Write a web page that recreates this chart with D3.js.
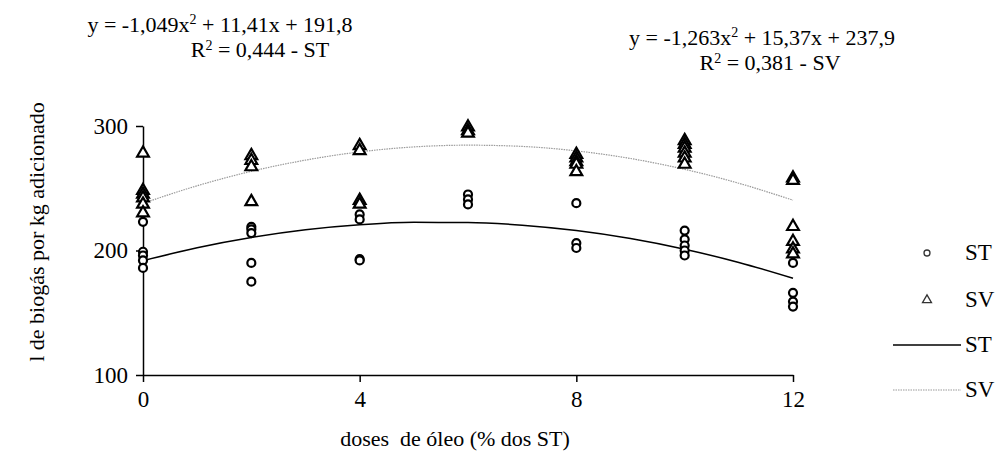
<!DOCTYPE html>
<html><head><meta charset="utf-8">
<script src="https://cdn.jsdelivr.net/npm/d3@7"></script>
<style>
@font-face{font-family:"ChartSerif";src:local("Liberation Serif"),local("LiberationSerif"),local("LiberationSerif-Regular"),local("Tinos"),local("Times New Roman");}
</style>
</head><body style="margin:0;background:#fff">
<svg id="c" width="1003" height="471"></svg>
<script>
// Data
const stX = [0,0,0,0,0, 2,2,2,2,2, 4,4,4,4, 6,6,6, 8,8,8, 10,10,10,10,10, 12,12,12,12];
const stY = [223,199,196,192,186, 219,217,214,190,175, 229,225,193,192, 245,241,237, 238,206,202, 216,209,204,200,196, 190,166,159,155];
const svX = [0,0,0,0,0,0, 2,2,2,2, 4,4,4,4, 6,6,6, 8,8,8,8,8, 10,10,10,10,10,10, 12,12,12,12,12,12];
const svY = [279,249,246,243,238,231, 277,273,268,240, 285,281,241,238, 300,297,295, 278,275,272,270,264, 289,286,283,279,275,270, 259,257,220,208,202,198];
const trendX = [0,1,2,3,4,5,6,7,8,9,10,11,12];
const stTrend = [191.8,202.2,210.4,216.6,220.6,222.6,222.5,220.3,216.0,209.6,201.0,190.4,177.7];
const svTrend = [237.9,252.0,263.6,272.6,279.2,283.2,284.6,283.6,280.0,273.9,265.2,254.0,240.4];
const xTicks = [0,4,8,12];
const yTicks = [100,200,300];

const FONT = '"Liberation Serif", ChartSerif, Tinos, "Times New Roman", Times, serif';
const svg = d3.select("#c");
const x = d3.scaleLinear().domain([0,12]).range([143,793]);
const y = d3.scaleLinear().domain([100,300]).range([375,126]);

// axes
const xa = svg.append("g").attr("transform","translate(0,375)")
  .call(d3.axisBottom(x).tickValues(xTicks).tickSize(7).tickPadding(9).tickSizeOuter(0));
const ya = svg.append("g").attr("transform","translate(143,0)")
  .call(d3.axisLeft(y).tickValues(yTicks).tickSize(7).tickPadding(8).tickSizeOuter(0));
[xa,ya].forEach(a=>{
  a.attr("font-family",null).attr("font-size",null);
  a.selectAll("path,line").attr("stroke","#000").attr("stroke-width",1.5);
  a.selectAll("text").style("font-family",FONT).style("font-size","23px").attr("fill","#000");
});

// trend lines
const line = (vals)=>d3.line().x((d,i)=>x(trendX[i])).y(d=>y(d)).curve(d3.curveMonotoneX)(vals);
svg.append("path").attr("d",line(svTrend)).attr("fill","none").attr("stroke","#999").attr("stroke-width",1.2).attr("stroke-dasharray","1.5,1");
svg.append("path").attr("d",line(stTrend)).attr("fill","none").attr("stroke","#000").attr("stroke-width",1.5);

// markers
const tri = d3.symbol().type(d3.symbolTriangle).size(60);
svg.append("g").selectAll("path").data(svY).join("path")
  .attr("d",tri).attr("transform",(d,i)=>`translate(${x(svX[i])},${y(d)+1})`)
  .attr("fill","#fff").attr("stroke","#000").attr("stroke-width",2.2);
svg.append("g").selectAll("circle").data(stY).join("circle")
  .attr("cx",(d,i)=>x(stX[i])).attr("cy",d=>y(d)).attr("r",4)
  .attr("fill","#fff").attr("stroke","#000").attr("stroke-width",2.2);

// text helper
const t = (xx,yy,size,anchor)=>svg.append("text").attr("x",xx).attr("y",yy)
  .attr("text-anchor",anchor||"middle").attr("fill","#000")
  .style("font-family",FONT).style("font-size",size+"px");
function eq(xx,yy,a,b,c){
  const e = t(xx,yy,22);
  e.append("tspan").text(`y = ${a}x`);
  e.append("tspan").style("font-size","14px").attr("dy",-8).text("2");
  e.append("tspan").attr("dy",8).text(` + ${b}x + ${c}`);
}
function r2(xx,yy,val){
  const e = t(xx,yy,22);
  e.append("tspan").text("R");
  e.append("tspan").style("font-size","14px").attr("dy",-7).text("2");
  e.append("tspan").attr("dy",7).text(` = ${val}`);
}
eq(220,32,"-1,049","11,41","191,8");
r2(260,57,"0,444 - ST");
eq(762,45,"-1,263","15,37","237,9");
r2(770,70,"0,381 - SV");

// axis titles
t(455,446,22).style("white-space","pre").text("doses  de óleo (% dos ST)");
t(0,0,22).attr("transform","translate(44,232) rotate(-90)").text("l de biogás por kg adicionado");

// legend
const lg = svg.append("g");
lg.append("circle").attr("cx",927).attr("cy",253).attr("r",3).attr("fill","#fff").attr("stroke","#333").attr("stroke-width",1.3);
lg.append("path").attr("d",d3.symbol().type(d3.symbolTriangle).size(35)).attr("transform","translate(927,300)").attr("fill","#fff").attr("stroke","#333").attr("stroke-width",1.3);
lg.append("line").attr("x1",893).attr("x2",961).attr("y1",345).attr("y2",345).attr("stroke","#000").attr("stroke-width",1.5);
lg.append("line").attr("x1",893).attr("x2",961).attr("y1",390).attr("y2",390).attr("stroke","#999").attr("stroke-width",1.2).attr("stroke-dasharray","1.5,1");
[["ST",253],["SV",300],["ST",345],["SV",390]].forEach(([s,yy])=>t(965,yy+7,23,"start").text(s));
</script>
</body></html>
